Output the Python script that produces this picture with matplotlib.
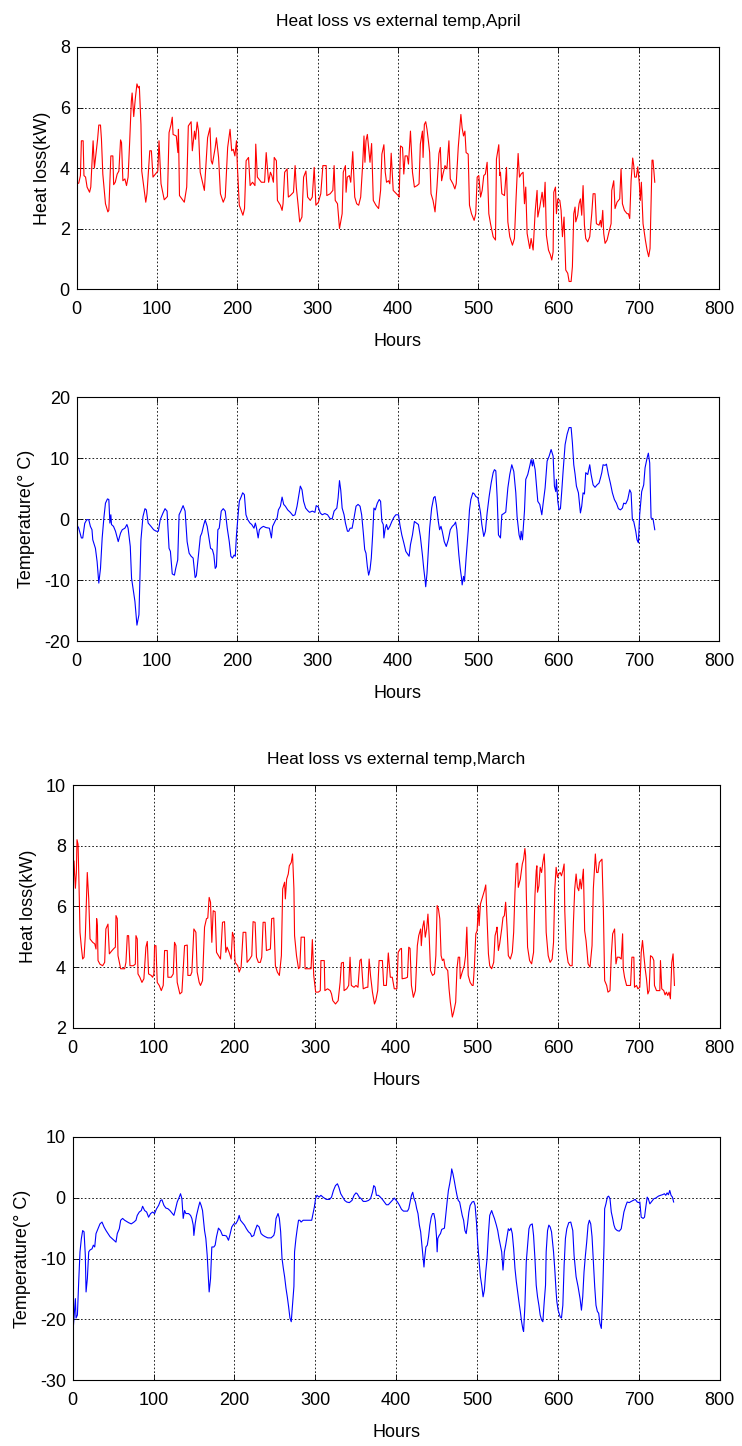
import matplotlib
matplotlib.use('Agg')
import matplotlib.pyplot as plt
import numpy as np

plt.rcParams['font.family'] = ['Liberation Sans', 'DejaVu Sans']
plt.rcParams['axes.unicode_minus'] = False

# (hour, kW) readings, April heat loss
april_loss = [
    (0, 3.48), (2.5, 3.5), (4.6, 3.75), (5.8, 4.9), (8, 4.9), (9, 3.75), (11, 3.7), (12.9, 3.37),
    (16, 3.2), (17.5, 3.37), (20.4, 4.9), (22, 4.0), (24, 4.46), (26, 4.95), (27.5, 5.42), (29.6, 5.42),
    (30.8, 4.95), (32.5, 3.8), (35.8, 2.82), (38.8, 2.55), (40, 2.6), (42.5, 4.4), (45, 4.4), (46, 3.45),
    (48, 3.53), (50.4, 3.8), (52.5, 3.9), (54.6, 4.93), (55.8, 4.84), (57.5, 3.58), (60, 3.64), (62, 3.42),
    (64, 3.7), (66, 4.9), (68, 6.2), (69, 6.48), (71, 5.7), (73, 6.3), (75, 6.78), (76.7, 6.65),
    (78, 6.7), (80, 5.44), (81, 3.9), (83, 3.48), (86, 2.87), (87.5, 3.15), (91, 4.57), (93, 4.57),
    (95, 3.7), (98, 3.8), (101, 3.9), (102.5, 4.9), (105, 3.48), (109, 2.95), (113, 3.06), (115, 5.17),
    (117.5, 5.44), (119, 5.68), (120, 5.11), (124, 5.06), (126, 4.51), (126.7, 5.28), (128, 3.09), (134, 2.87),
    (137, 3.37), (139, 5.39), (142.5, 5.53), (144, 4.57), (146.7, 5.22), (148, 4.95), (150, 5.52), (151.7, 5.22),
    (153.8, 3.86), (159, 3.26), (163, 5.0), (166, 5.33), (167.5, 4.24), (169, 4.13), (172.5, 4.68), (174, 5.0),
    (176.7, 4.35), (179, 3.15), (182.5, 2.87), (185, 3.04), (188, 4.68), (191, 5.28), (193, 4.57), (195, 4.62),
    (197, 4.4), (199, 4.9), (200, 4.13), (202.5, 2.77), (207, 2.44), (209, 2.66), (211, 4.24), (214, 4.35),
    (216, 3.42), (219, 3.53), (222, 3.42), (223, 4.79), (225, 3.7), (230, 3.53), (234, 3.53), (236, 4.51),
    (239, 3.53), (241.3, 3.86), (243, 3.75), (245, 3.53), (246, 4.35), (248.7, 4.24), (250, 2.93), (253.7, 2.77),
    (255.8, 2.6), (257, 2.82), (259, 3.86), (262, 3.97), (263.6, 3.04), (266, 3.09), (270, 3.2), (272, 4.08),
    (273.5, 3.37), (275.6, 2.82), (277.7, 2.22), (280.5, 2.38), (282.6, 3.7), (285.5, 3.9), (287.6, 3.04), (290.9, 2.93),
    (293.4, 3.04), (295.8, 4.02), (297.9, 2.77), (301, 2.87), (304, 3.15), (306.6, 4.08), (310.7, 4.08), (311.5, 3.09),
    (315.7, 3.15), (319, 3.26), (320.6, 4.08), (322, 2.93), (324.8, 2.82), (327.3, 2.0), (330.6, 2.49), (332, 3.86),
    (334.7, 4.08), (335.5, 3.2), (337, 3.7), (339.6, 3.75), (341.3, 3.53), (343.8, 4.54), (346.3, 3.04), (348.7, 2.82),
    (351.2, 2.77), (353.7, 3.04), (356.2, 4.13), (357.8, 5.06), (359, 4.19), (360.3, 4.9), (362, 5.11), (363.6, 4.68),
    (365.3, 4.19), (367.3, 4.81), (369.4, 2.93), (372.7, 2.77), (376, 2.66), (378.5, 3.26), (380.1, 4.46), (382.6, 4.77),
    (384.3, 3.86), (385.9, 3.53), (388.4, 3.58), (390, 3.48), (391.7, 4.49), (394.2, 3.26), (398.3, 3.15), (400.4, 3.09),
    (401.6, 3.04), (403.3, 4.73), (405.8, 4.68), (407.4, 3.8), (409, 4.4), (411.6, 4.4), (413.2, 4.13), (415.7, 5.22),
    (418.2, 3.86), (420.6, 3.37), (424, 3.42), (426.4, 3.48), (428, 4.79), (430.6, 5.22), (431.4, 4.35), (433, 5.44),
    (434.7, 5.53), (436.3, 5.28), (438, 4.9), (439.6, 4.51), (441.3, 3.15), (443.8, 2.93), (446.3, 2.55), (448.7, 3.37),
    (451.2, 4.48), (452.9, 4.68), (454.5, 3.58), (456.2, 3.8), (458.7, 4.08), (461.1, 3.97), (463.6, 4.9), (465.3, 3.64),
    (468.6, 3.48), (471, 3.31), (472.7, 3.48), (475.2, 4.68), (476.8, 5.22), (478.5, 5.77), (480, 5.33), (481.8, 5.06),
    (483.5, 5.22), (485, 4.51), (487.6, 4.46), (489.2, 2.77), (491.7, 2.49), (495, 2.27), (497, 2.49), (498.8, 3.7),
    (500.8, 3.75), (503, 3.04), (505, 3.26), (507, 3.75), (509, 3.8), (511.2, 4.19), (513.3, 2.49), (515.4, 2.16),
    (518.7, 1.73), (521.6, 1.62), (522.8, 4.3), (525.7, 4.77), (527, 3.75), (527.8, 3.86), (529.5, 3.15), (532.8, 3.09),
    (535.3, 4.02), (537, 2.22), (539.4, 1.73), (542.7, 1.45), (545.2, 1.67), (547.3, 3.04), (549.8, 4.48), (551.5, 3.7),
    (553.5, 3.8), (556, 3.86), (557.7, 2.82), (559.3, 3.37), (561, 1.84), (564.3, 1.34), (566, 1.67), (568.5, 1.29),
    (571, 2.55), (573.4, 3.26), (574.3, 2.38), (576.8, 2.71), (579.7, 3.2), (581.7, 2.71), (583.4, 3.53), (585, 1.78),
    (587.6, 1.29), (590, 1.13), (591.7, 0.96), (593.4, 1.23), (594.2, 3.2), (596.3, 3.37), (597.5, 2.49), (599.2, 2.98),
    (601.7, 2.93), (603.3, 2.6), (605, 1.73), (607, 2.38), (609.1, 0.63), (611.6, 0.52), (613.3, 0.25), (615.8, 0.25),
    (617.4, 0.74), (619.1, 2.49), (620.7, 2.71), (621.6, 2.22), (624, 2.44), (625.7, 2.82), (627.4, 2.98), (629, 2.44),
    (630.7, 3.42), (632.4, 2.11), (634, 1.67), (636.5, 1.56), (639, 1.73), (641.5, 2.49), (643.2, 3.15), (645.6, 3.15),
    (647.3, 2.16), (650.6, 2.11), (652.3, 2.27), (653.5, 2.05), (655.2, 2.6), (656.4, 1.84), (658.1, 1.51), (660.6, 1.62),
    (663, 1.89), (665.6, 2.16), (666.4, 3.26), (668.9, 3.58), (670.5, 2.66), (673, 2.87), (676.3, 2.98), (678, 3.97),
    (679.7, 2.82), (682.2, 2.6), (685.5, 2.49), (687.1, 2.49), (688.8, 2.33), (690.5, 3.58), (692.5, 4.33), (693.8, 4.08),
    (695, 3.7), (697, 3.7), (698.8, 4.04), (700.8, 3.48), (702, 2.93), (703.3, 3.53), (705.4, 2.16), (708.3, 1.62),
    (710.4, 1.29), (712.4, 1.07), (714.1, 1.34), (716.6, 4.26), (717.8, 4.26), (720, 3.53),
]

# (hour, degC) readings, April external temperature
april_temp = [
    (0, -0.9), (2.5, -1.5), (5.8, -3.1), (7.5, -3.1), (10, -0.7), (12.5, -0.1), (15, -0.1), (17, -1.2),
    (19, -1.75), (20, -3.4), (23.3, -4.8), (25.4, -7.0), (27.5, -10.5), (29.6, -8.1), (31.7, -3.1), (33.8, 0.16),
    (35.8, 2.6), (38.3, 3.3), (40, 3.2), (41.3, -0.66), (42.5, 0.7), (43.3, -0.9), (45.8, -1.2), (48.3, -2.0),
    (51.7, -3.7), (54.6, -2.3), (56.7, -1.75), (60, -1.5), (62.5, -0.9), (64, -1.5), (66.7, -4.5), (68.3, -9.7),
    (70.8, -11.9), (72.5, -13.5), (75, -17.4), (77.5, -15.7), (79, -8.1), (80, -3.4), (82.5, 0.4), (85, 1.7),
    (86.7, 1.5), (89, -0.66), (92.5, -1.2), (95.8, -1.75), (99, -2.0), (101.7, -2.0), (104, -0.1), (107.5, 1.0),
    (110, 1.7), (112.5, 1.3), (115, -4.8), (116.7, -5.3), (119, -9.0), (121.7, -9.2), (123.3, -8.1), (125.8, -6.7),
    (127.5, 0.7), (129.6, 1.3), (132.5, 2.2), (135, 1.3), (137.5, -3.7), (140, -5.6), (142.5, -6.1), (145, -6.4),
    (147.5, -9.6), (149, -9.3), (151.7, -5.9), (154, -2.85), (155.8, -2.3), (158.3, -0.9), (160, -0.16), (162.5, -1.2),
    (165, -3.4), (166.7, -4.8), (169, -5.0), (170.8, -5.9), (172.5, -8.1), (174, -7.8), (175.8, -1.75), (177.5, -1.5),
    (180, 1.3), (182.5, 1.7), (185, 1.3), (187.5, -1.5), (190, -3.7), (192, -6.1), (194, -6.4), (196, -5.9),
    (197.5, -6.1), (199, -2.6), (201, 0.7), (202.5, 2.9), (205, 3.7), (206.7, 4.3), (208.8, 4.0), (210.8, 0.7),
    (213, -0.1), (215.8, -0.66), (218, -0.9), (220.8, -1.5), (222.5, -0.66), (224, -1.5), (226, -3.1), (227.5, -1.75),
    (230, -1.4), (232.5, -1.2), (235.8, -1.4), (240, -1.5), (242.5, -3.1), (244, -1.2), (248, -0.1), (249.6, 0.16),
    (251.2, 1.5), (253.7, 2.1), (255.8, 3.6), (257.8, 2.4), (259.9, 2.1), (262.8, 1.5), (266, 1.1), (269.4, 0.55),
    (271.9, 0.7), (274.4, 2.1), (276.8, 4.0), (278.5, 5.4), (280.6, 4.8), (282.6, 2.9), (285.1, 1.8), (287.6, 1.4),
    (290, 1.1), (293.4, 1.3), (296.7, 1.1), (298.3, 2.2), (300.8, 2.0), (303.3, 1.0), (305.8, 0.7), (309, 0.9),
    (312.4, 0.7), (315.7, 0.05), (318.2, 0.05), (320.6, 1.3), (324, 1.8), (325.6, 3.5), (327.3, 6.3), (328.9, 4.7),
    (330.6, 1.8), (333, 0.7), (334.7, -0.66), (337.2, -2.0), (338.8, -2.0), (340.5, -1.5), (343, -1.5), (345.4, 0.16),
    (347.9, 2.1), (350.4, 2.4), (352.9, 2.1), (354.9, 0.7), (357, -2.3), (358.7, -5.0), (360.3, -5.6), (362, -7.8),
    (363.6, -9.2), (365.3, -8.3), (366.9, -6.4), (368.6, -2.6), (370.2, 1.8), (371.9, 1.5), (374.4, 2.6), (376.8, 3.2),
    (378.5, 2.9), (380.1, -0.4), (381.8, -0.9), (382.6, -3.1), (384.3, -1.5), (385.9, -0.9), (387.6, -1.75), (390, -1.2),
    (392.5, -0.4), (395, 0.27), (397.5, 0.7), (400.8, 0.7), (402.5, -0.9), (404.9, -2.6), (407.4, -3.9), (409.9, -5.3),
    (411.5, -5.6), (414, -6.1), (415.7, -4.2), (418.2, -2.6), (420.6, -0.4), (423.1, -0.66), (425.6, -0.9), (428, -2.85),
    (430.6, -5.9), (432.2, -8.1), (433.9, -10.0), (434.7, -11.1), (436.3, -8.9), (438, -5.0), (439.6, -1.5), (442.1, 1.8),
    (444.6, 3.5), (446.3, 3.7), (447.9, 2.4), (450.4, -0.4), (452, -1.75), (453.7, -1.2), (455.3, -2.0), (457.8, -3.7),
    (460.3, -4.5), (462.8, -3.4), (465.3, -1.75), (467.8, -1.2), (470.2, -0.9), (471.9, -0.5), (473.5, -1.75), (476, -5.9),
    (477.7, -8.1), (479.3, -9.7), (480.1, -10.8), (481.8, -9.4), (483, -10.2), (485, -6.4), (487.6, -2.0), (489.2, 1.5),
    (490.9, 3.2), (493.4, 4.3), (495.4, 4.1), (497, 3.7), (499.6, 3.5), (501.2, 2.4), (503, 1.0), (504.6, -0.9),
    (507, -2.85), (509, -2.0), (511.2, 1.0), (513.7, 3.7), (516.2, 5.9), (518.7, 7.6), (520.3, 8.1), (522, 7.9),
    (523.7, 3.5), (525.3, -2.6), (527.8, -3.1), (529.5, 0.7), (532, 0.9), (534.4, 1.15), (537, 5.1), (539.4, 7.3),
    (541.9, 8.9), (544.4, 7.8), (546.9, 4.3), (548.5, 0.4), (551, -2.6), (552.7, -3.4), (553.5, -2.0), (555.2, -3.4),
    (557.7, 1.3), (559.3, 6.5), (561.8, 7.3), (564.3, 8.7), (566, 9.75), (567.6, 8.7), (568.5, 9.75), (571, 8.1),
    (572.6, 5.6), (574.3, 2.9), (576.8, 2.4), (579.3, 0.7), (581, 2.6), (583.4, 5.1), (585.9, 9.5), (588.4, 10.3),
    (590.9, 11.4), (593.4, 10.3), (595, 5.4), (596.7, 4.5), (597.5, 6.5), (599.2, 2.9), (600.8, 1.5), (602.5, 1.7),
    (604.1, 4.5), (605.8, 7.8), (608.3, 12.2), (610.8, 13.9), (613.3, 15.0), (615.8, 15.0), (617.4, 12.5), (619.1, 8.9),
    (620.7, 7.4), (622.4, 5.4), (624.9, 4.3), (627.4, 1.0), (629, 2.1), (630.7, 4.3), (632.4, 4.1), (634, 7.6),
    (636.5, 7.3), (639, 8.9), (640.7, 7.3), (643.2, 5.6), (645.6, 5.2), (648.1, 5.6), (650.6, 5.9), (652.3, 6.7),
    (654, 7.6), (655.6, 8.9), (658.1, 8.8), (659.8, 9.0), (662.2, 7.3), (664.7, 5.9), (667.2, 4.3), (669.7, 3.2),
    (672.2, 2.6), (674.7, 1.7), (677.2, 1.5), (679.7, 1.8), (681.3, 2.6), (683.8, 2.5), (686.3, 3.2), (688.8, 4.8),
    (690.5, 4.3), (692.1, -0.1), (693.8, -0.4), (696.3, -2.0), (697.9, -3.4), (699.6, -3.9), (701.2, 0.7), (703.7, 4.5),
    (706.2, 5.6), (707.9, 8.4), (710.4, 10.0), (712, 10.8), (713.7, 9.2), (715.4, 0.16), (717.8, 0.05), (720, -1.75),
]

# (hour, kW) readings, March heat loss
march_loss = [
    (0, 6.25), (1.6, 7.5), (3.3, 6.6), (4.5, 7.1), (5.3, 8.2), (6.6, 8.05), (7.8, 6.7), (9, 5.15),
    (10.7, 4.66), (12.3, 4.27), (14, 4.33), (15.6, 5.04), (18, 7.12), (19.8, 6.25), (21.4, 4.93), (24.7, 4.82),
    (27.2, 4.77), (28.8, 4.6), (29.6, 5.6), (30.5, 5.37), (31.3, 4.22), (33.7, 4.1), (37, 4.05), (39.5, 4.16),
    (41, 5.26), (43.6, 5.42), (45.3, 4.44), (48.6, 4.55), (51, 4.62), (52.7, 4.66), (53.5, 5.7), (55.1, 5.6),
    (56, 4.38), (59.3, 3.95), (64.2, 3.95), (65.8, 4.16), (67.5, 5.04), (69.1, 5.04), (70.8, 4.05), (74.9, 4.05),
    (77.4, 4.1), (78.2, 5.04), (79.8, 4.93), (80.7, 3.78), (83, 3.67), (85.6, 3.5), (88, 3.62), (90.5, 4.66),
    (92.2, 4.85), (93.8, 3.78), (97, 3.73), (98.8, 3.67), (100.4, 3.78), (101.2, 4.71), (102.9, 4.71), (104.5, 3.5),
    (107, 3.4), (109.5, 3.23), (111.9, 3.4), (113.6, 4.55), (116.9, 4.55), (117.7, 3.67), (121.8, 3.67), (124.3, 3.78),
    (125.9, 4.82), (127.6, 4.71), (129.2, 3.5), (132.5, 3.12), (135, 3.18), (138.3, 4.71), (141.6, 4.73), (142.4, 3.73),
    (145.7, 3.73), (147.3, 3.84), (149.8, 5.26), (152.3, 5.15), (153.9, 3.84), (156.4, 3.5), (158, 3.4), (160.5, 3.56),
    (163, 5.32), (165.4, 5.6), (167, 5.62), (168.7, 6.3), (170.4, 6.14), (172, 4.82), (173.7, 5.86), (176.1, 5.83),
    (177.8, 4.49), (180.2, 4.38), (182.7, 4.27), (185.2, 5.48), (187.7, 5.5), (189.3, 4.49), (190.9, 4.66), (193.4, 4.49),
    (195.9, 4.27), (197.5, 5.15), (199.2, 4.99), (200.8, 4.16), (204, 4.05), (205.8, 3.84), (208.2, 4.0), (210.7, 5.15),
    (214, 5.15), (215.6, 4.16), (218.9, 4.27), (221.4, 4.38), (223, 5.5), (225.5, 5.48), (227.2, 4.33), (229.6, 4.16),
    (232, 4.16), (233.7, 4.33), (235.4, 5.48), (237.9, 5.48), (239.5, 4.55), (244.4, 4.6), (246, 5.6), (248.6, 5.62),
    (250.6, 4.05), (253, 3.84), (255.5, 3.73), (258, 4.38), (259.6, 6.58), (262, 6.8), (262.9, 6.25), (264.5, 6.9),
    (266.5, 7.07), (267.8, 7.34), (270.2, 7.45), (271.8, 7.73), (273.5, 6.58), (274.3, 5.04), (276.7, 4.38), (279.2, 3.95),
    (280.8, 4.0), (282.4, 4.99), (286.5, 4.99), (287.3, 3.95), (292.2, 3.95), (294.7, 3.95), (296.3, 4.91), (298, 3.73),
    (300.4, 3.18), (303.7, 3.18), (306.1, 3.23), (306.9, 4.22), (311, 4.22), (311.8, 3.23), (315.1, 3.29), (318.4, 3.23),
    (320, 3.12), (321.6, 2.9), (324.9, 2.79), (328.2, 2.9), (330.6, 3.5), (332.2, 4.14), (334.7, 4.16), (335.5, 3.23),
    (338.8, 3.29), (341.2, 3.4), (342.9, 4.33), (344.5, 3.4), (347.8, 3.34), (350.2, 3.4), (352.7, 3.34), (355.1, 4.22),
    (356.7, 4.27), (359.2, 3.29), (363.3, 3.34), (364.9, 3.34), (366.5, 4.27), (368.2, 3.73), (370.6, 3.18), (373.1, 2.79),
    (374.7, 2.9), (377.1, 3.23), (378.8, 4.22), (382.9, 4.22), (384.5, 3.4), (387.8, 3.4), (390.2, 4.47), (392.7, 3.67),
    (395.1, 3.67), (397.6, 3.29), (400.8, 3.29), (402.4, 4.49), (404.9, 4.6), (406.5, 4.62), (407.3, 3.62), (411.4, 3.64),
    (413.9, 3.67), (415.5, 4.66), (417.1, 4.62), (418.8, 3.4), (421.2, 3.01), (423.7, 3.23), (426.1, 4.71), (427.8, 5.04),
    (430.2, 5.26), (431, 4.71), (432.7, 5.32), (434.3, 5.53), (435.9, 4.99), (437.6, 5.26), (439.2, 5.75), (440.8, 4.99),
    (442.4, 3.89), (444.9, 3.73), (447.3, 3.78), (449, 4.38), (450.6, 6.03), (452.2, 5.92), (453.9, 5.59), (455.5, 4.38),
    (457.1, 4.22), (458.8, 4.27), (460.4, 4.0), (462, 3.95), (463.7, 3.89), (465.3, 3.29), (466.9, 2.85), (469.4, 2.36),
    (471, 2.52), (473.5, 2.85), (475.1, 3.95), (476.7, 4.33), (478.4, 4.33), (479.2, 3.62), (481.6, 3.84), (484.1, 4.05),
    (485.7, 4.38), (487.3, 5.32), (489, 3.73), (491.4, 3.5), (493.9, 3.4), (495.1, 3.4), (496.7, 4.05), (498.4, 5.1),
    (500, 5.2), (501.6, 6.03), (502.5, 5.37), (504.1, 6.08), (506.6, 6.3), (509, 6.52), (510.7, 6.71), (512.3, 5.59),
    (514, 4.44), (515.6, 4.05), (518, 3.95), (520.5, 4.16), (522.2, 5.04), (523.8, 5.2), (524.6, 5.32), (526.3, 4.55),
    (527.9, 4.77), (530.4, 5.26), (532, 5.64), (533.7, 5.7), (535.3, 6.14), (537, 5.32), (538.6, 4.38), (541.1, 4.27),
    (543.5, 4.49), (545.2, 5.15), (546.8, 6.47), (548.5, 7.4), (550.1, 7.43), (550.9, 6.63), (553.4, 6.9), (555.9, 7.4),
    (557.5, 7.56), (559.1, 7.91), (560, 7.67), (560.8, 6.47), (562.4, 4.66), (564.9, 4.22), (567.4, 4.11), (569.8, 4.49),
    (571.5, 6.36), (573.1, 7.18), (573.9, 7.34), (574.7, 6.47), (576.4, 6.68), (578, 7.29), (579.7, 7.12), (581.3, 7.45),
    (583, 7.73), (583.8, 7.23), (585.4, 5.15), (587.9, 4.38), (590.3, 4.16), (592.8, 4.27), (594.5, 4.82), (596.1, 6.58),
    (597.7, 7.29), (599.4, 6.96), (601, 7.07), (602.7, 7.12), (604.3, 7.01), (606, 7.18), (607.6, 7.4), (608.4, 5.86),
    (610.1, 4.6), (612.5, 4.16), (615, 4.05), (617.5, 4.05), (619.1, 5.48), (620.7, 6.58), (622.4, 7.07), (624, 6.63),
    (625.7, 6.52), (627.3, 6.9), (628.9, 6.58), (631.4, 7.23), (633, 5.2), (634.7, 4.88), (637.2, 4.11), (639.6, 4.0),
    (642.1, 4.71), (643.7, 6.58), (646.2, 7.73), (647.8, 7.12), (649.5, 7.12), (651.1, 7.45), (652.8, 7.51), (654.4, 7.56),
    (656.1, 5.92), (657.7, 3.56), (660.2, 3.4), (661.8, 3.18), (664.3, 3.23), (665.9, 4.38), (667.6, 5.1), (670, 5.26),
    (671.7, 4.11), (673.3, 4.33), (675.8, 4.33), (678.2, 4.27), (679.9, 5.1), (680.7, 3.95), (682.3, 3.67), (684.8, 3.4),
    (687.3, 3.4), (689.7, 3.4), (691.4, 4.33), (693.8, 4.33), (694.6, 3.34), (697.1, 3.4), (698.8, 3.29), (701.2, 3.34),
    (702.9, 4.49), (704.5, 4.88), (706.2, 4.38), (707.8, 3.95), (709.4, 3.62), (711.1, 3.12), (712.7, 3.23), (714.4, 4.38),
    (716.8, 4.33), (718.5, 4.22), (719.3, 3.4), (721.8, 3.23), (724.2, 3.23), (725.9, 3.23), (726.7, 4.22), (728.3, 3.29),
    (730.8, 3.23), (732.4, 3.09), (734.1, 3.18), (735.7, 3.07), (737.4, 3.18), (739, 2.96), (740.7, 4.16), (742.3, 4.44),
    (744, 3.4),
]

# (hour, degC) readings, March external temperature
march_temp = [
    (0, -15.2), (0.8, -21.2), (2.5, -18.2), (3.3, -16.6), (4.1, -19.8), (5.8, -19.3), (7.4, -13.8), (9, -8.9),
    (10.7, -6.7), (12.3, -5.4), (14, -5.6), (15.6, -9.5), (16.5, -15.5), (18.1, -13.3), (19.8, -8.9), (21.4, -8.6),
    (23.9, -8.4), (25.5, -7.8), (27.2, -8.1), (28.8, -5.9), (31.3, -5.1), (33.7, -4.3), (36.2, -4.0), (38.7, -4.8),
    (41.2, -5.4), (43.6, -5.9), (46.1, -6.4), (48.6, -6.7), (51, -7.0), (53.5, -7.3), (55.1, -5.9), (57.6, -5.1),
    (59.3, -3.7), (61.7, -3.4), (64.2, -3.7), (66.7, -3.9), (69.1, -4.1), (72.4, -4.3), (75.7, -4.0), (78.2, -3.7),
    (79.8, -2.9), (82.3, -2.35), (84.8, -2.1), (86.4, -1.4), (88.9, -2.1), (91.4, -2.35), (93.8, -3.2), (96.3, -2.6),
    (98.8, -2.35), (101.2, -2.6), (103.7, -1.8), (106.2, -1.26), (108.6, -0.44), (110.3, -0.33), (112.8, -1.26), (115.2, -1.7),
    (117.7, -1.8), (120.2, -2.1), (122.6, -2.5), (125.1, -2.9), (126.7, -2.1), (129.2, -0.7), (131.7, 0.1), (133.3, 0.66),
    (135, -0.16), (136.6, -3.4), (138.3, -2.1), (139.9, -2.6), (143.2, -2.6), (145.7, -2.9), (147.3, -3.4), (149, -4.5),
    (149.8, -6.2), (151.4, -4.3), (153.1, -2.9), (155.6, -1.5), (157.2, -0.7), (158.8, -1.26), (160.5, -2.1), (163, -5.4),
    (164.6, -6.7), (166.3, -9.5), (168.7, -15.5), (170.4, -13.3), (172, -8.1), (174.5, -8.1), (176.1, -7.8), (177.8, -6.4),
    (180.2, -5.0), (182.7, -5.4), (185.2, -6.2), (187.7, -6.2), (190.1, -6.3), (192.6, -7.0), (194.2, -6.2), (196.7, -4.8),
    (199.2, -4.3), (201.6, -4.3), (204.1, -3.7), (205.8, -2.9), (207.4, -3.7), (209.9, -4.1), (212.3, -4.5), (214.8, -5.1),
    (217.3, -5.6), (219.8, -5.9), (221.4, -6.4), (223.9, -6.2), (225.5, -5.4), (228, -4.5), (230.5, -4.8), (232.9, -5.9),
    (235.4, -6.2), (237.9, -6.4), (241.2, -6.6), (245.3, -6.6), (248.6, -6.2), (249.8, -5.6), (251.4, -3.4), (253.9, -2.6),
    (255.5, -3.4), (257.1, -5.6), (258.8, -10.0), (260.4, -11.6), (262, -13.0), (263.7, -14.9), (265.3, -16.3), (266.9, -17.9),
    (268.6, -19.8), (270.2, -20.4), (271.8, -17.7), (273.5, -14.6), (274.3, -8.9), (276, -6.7), (277.6, -5.1), (279.2, -3.7),
    (280.8, -3.7), (282.4, -4.0), (284.9, -3.7), (288.2, -3.7), (292.2, -3.7), (295.5, -3.7), (297.1, -2.6), (298.8, -1.5),
    (300.4, -0.05), (302, 0.4), (304.5, 0.1), (306.9, 0.4), (309.4, 0.1), (313.5, -0.27), (317.6, -0.27), (320, 0.1),
    (322.4, 1.2), (324.9, 2.0), (327.3, 2.3), (329, 1.75), (331.4, 0.66), (333.9, 0.1), (336.3, -0.44), (338.8, -0.7),
    (342, -0.8), (345.3, -0.44), (347.8, 0.4), (350.2, 0.8), (351.8, 0.66), (354.3, 0.1), (356.7, -0.16), (359.2, -0.6),
    (362.4, -0.6), (365.7, -0.44), (368.2, -0.16), (370.6, 0.9), (372.2, 2.0), (373.9, 1.75), (375.5, 0.4), (378, 0.4),
    (380.4, 0.1), (382.9, -0.27), (385.3, -0.7), (387.8, -1.15), (390.2, -1.15), (392.7, -0.8), (395.1, -0.44), (397.6, -0.05),
    (400, -0.44), (401.6, -0.7), (404.1, -1.26), (406.5, -1.9), (409, -2.2), (411.4, -2.2), (413.9, -2.2), (415.5, -1.8),
    (417.1, -0.7), (418.8, 0.4), (420.4, 0.9), (422, -0.16), (423.7, -0.7), (425.3, -1.8), (426.9, -2.6), (428.6, -4.5),
    (430.2, -5.6), (431.8, -7.8), (433.5, -10.0), (434.3, -11.4), (435.1, -10.0), (436.7, -8.1), (438.4, -7.8), (440, -6.4),
    (441.6, -4.5), (443.3, -3.2), (444.9, -2.6), (446.5, -2.6), (448.2, -3.7), (449.8, -6.4), (450.6, -8.9), (451.4, -6.7),
    (453.1, -6.2), (454.7, -5.9), (456.3, -5.2), (458, -5.1), (459.6, -5.0), (461.2, -2.9), (462.9, -0.7), (464.5, 1.2),
    (466.1, 2.3), (467.8, 3.7), (468.6, 4.75), (470.2, 3.9), (471.8, 2.8), (473.5, 1.5), (475.1, 0.4), (476.7, -0.44),
    (478.4, -0.7), (480, -1.8), (481.6, -2.9), (483.3, -3.7), (484.9, -5.4), (486.5, -5.9), (488.2, -4.3), (489.8, -2.35),
    (491.4, -1.26), (493.9, -0.7), (495.9, -0.6), (497.5, -1.26), (499.2, -4.0), (500.8, -7.5), (502.5, -10.5), (504.1, -13.0),
    (505.7, -14.4), (507.4, -16.3), (509, -15.2), (510.7, -12.2), (512.3, -10.0), (514, -5.9), (515.6, -2.9), (518, -2.1),
    (519.7, -2.8), (521.4, -3.4), (523.8, -4.5), (525.5, -5.4), (527.1, -6.7), (528.7, -7.8), (530.4, -8.9), (532, -11.9),
    (532.9, -10.5), (533.7, -8.9), (535.3, -7.8), (537, -6.4), (538.6, -5.1), (540.2, -5.4), (541.9, -5.0), (543.5, -5.9),
    (545.2, -8.4), (546.8, -11.6), (548.5, -13.8), (550.1, -15.5), (551.7, -17.1), (553.4, -18.7), (555, -20.4), (556.7, -21.7),
    (557.5, -22.0), (559.1, -17.7), (560.8, -10.5), (562.4, -7.8), (564.1, -5.1), (565.7, -4.5), (568.2, -4.3), (569.8, -6.2),
    (571.5, -10.0), (573.1, -14.4), (574.7, -16.3), (576.4, -17.7), (578, -19.3), (579.7, -20.1), (581.3, -20.4), (583, -17.1),
    (584.6, -14.4), (585.4, -8.9), (587.1, -5.4), (588.7, -4.5), (590.3, -4.8), (592, -5.6), (594.5, -8.9), (596.1, -11.9),
    (597.7, -15.5), (598.6, -17.1), (600.2, -18.5), (602.7, -19.6), (604.3, -19.8), (606, -17.7), (607.6, -11.1), (609.2, -6.7),
    (610.9, -5.1), (613.3, -4.1), (615.8, -4.0), (618.3, -5.4), (619.9, -9.5), (622.4, -13.0), (624.8, -14.6), (627.3, -16.6),
    (629, -18.5), (630.6, -16.3), (632.2, -12.2), (633.9, -9.5), (635.5, -7.3), (637.2, -4.5), (638.8, -3.7), (640.5, -4.3),
    (642.1, -6.4), (643.7, -10.5), (645.4, -14.6), (647, -17.7), (648.7, -18.7), (650.3, -19.0), (651.9, -20.7), (653.6, -21.5),
    (655.2, -16.0), (656.9, -7.8), (657.7, -1.8), (659.3, -1.0), (661, 0.1), (662.6, 0.27), (664.3, -0.16), (665.9, -2.35),
    (667.6, -3.4), (669.2, -4.5), (670.8, -5.1), (673.3, -5.4), (675.8, -5.5), (678.2, -5.1), (679.9, -3.7), (681.5, -2.35),
    (684, -1.26), (685.6, -0.7), (688.1, -0.8), (690.6, -0.6), (693, -0.44), (695.5, -0.27), (698, -0.7), (699.6, -0.8),
    (701.2, -0.7), (702.9, -3.2), (705.3, -3.4), (707, -3.2), (708.6, -1.5), (710.3, 0.1), (711.9, -0.27), (713.6, -1.0),
    (716, -0.6), (718.5, -0.16), (720.9, -0.05), (724.2, 0.27), (726.7, 0.4), (729.2, 0.5), (731.6, 0.66), (733.3, 0.4),
    (734.9, 0.8), (736.5, 0.5), (738.2, 1.2), (739.8, 0.4), (741.5, 0.1), (743, -0.7),
]

hour_ticks = list(range(0, 801, 100))

fig = plt.figure(figsize=(7.42, 14.46), dpi=100)


def draw_panel(rect, series, color, ylim, yticks, ylabel, title=None):
    ax = fig.add_axes(rect)
    h, v = np.array(series).T
    ax.plot(h, v, color=color, lw=0.8)
    ax.set_xlim(0, 800)
    ax.set_ylim(*ylim)
    ax.set_xticks(hour_ticks)
    ax.set_yticks(yticks)
    ax.grid(True, color='k', linestyle=(0, (2, 2.5)), linewidth=0.6)
    ax.tick_params(direction='in', top=True, right=True, length=4, width=0.6, labelsize=13)
    ax.tick_params(axis='x', pad=8.5)
    ax.tick_params(axis='y', pad=5)
    ax.set_xlabel('Hours', fontsize=13, labelpad=11)
    ax.set_ylabel(ylabel, fontsize=13, labelpad=6)
    if title:
        ax.set_title(title, fontsize=12.5, pad=15)
    for s in ax.spines.values():
        s.set_linewidth(0.8)
    return ax


draw_panel([0.1034, 0.8001, 0.8656, 0.1674], april_loss, '#ff0000', (0, 8), [0, 2, 4, 6, 8],
           'Heat loss(kW)', 'Heat loss vs external temp,April')
draw_panel([0.1034, 0.5567, 0.8656, 0.1687], april_temp, '#0000ff', (-20, 20), [-20, -10, 0, 10, 20],
           'Temperature(° C)')
draw_panel([0.0980, 0.2891, 0.8720, 0.1680], march_loss, '#ff0000', (2, 10), [2, 4, 6, 8, 10],
           'Heat loss(kW)', 'Heat loss vs external temp,March')
draw_panel([0.0980, 0.0456, 0.8720, 0.1681], march_temp, '#0000ff', (-30, 10), [-30, -20, -10, 0, 10],
           'Temperature(° C)')

fig.savefig('out.png', dpi=100)
